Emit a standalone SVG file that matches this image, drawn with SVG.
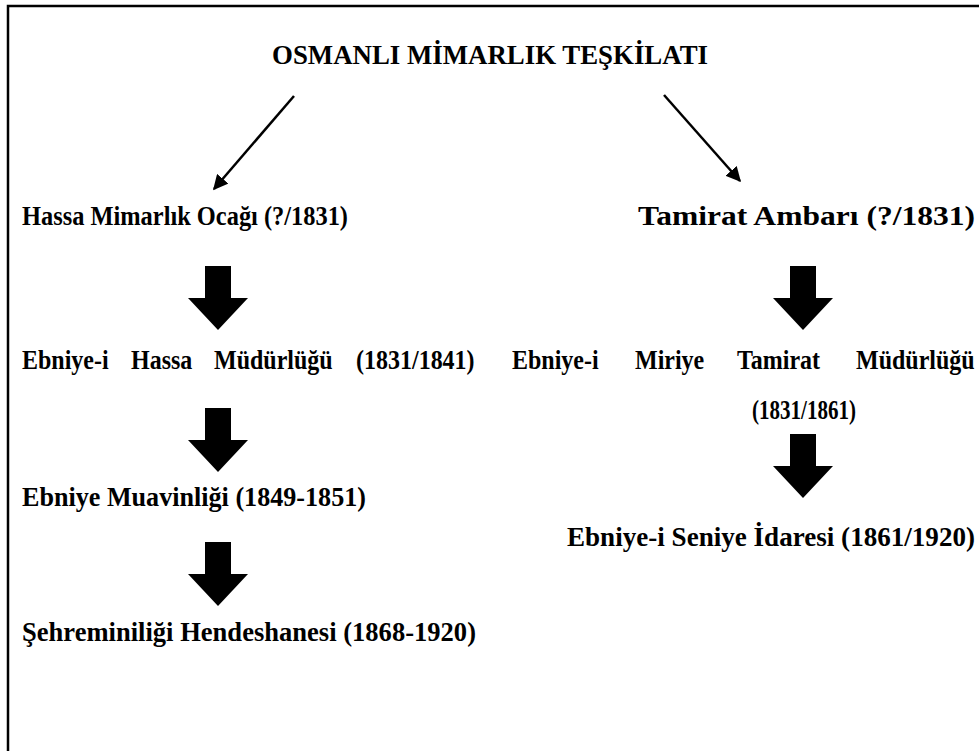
<svg xmlns="http://www.w3.org/2000/svg" width="979" height="751" viewBox="0 0 979 751">
<style>
.t{font-family:"Liberation Serif","Times New Roman",serif;font-weight:bold;font-size:24px;fill:#000}
.ln{stroke:#000;stroke-width:2.5;fill:none}
.blk{fill:#000}
</style>
<defs>
<marker id="ah" viewBox="0 0 10 10" refX="9" refY="5" markerWidth="6" markerHeight="6" markerUnits="strokeWidth" orient="auto">
<path d="M0,0 L10,5 L0,10 Z" fill="#000"/>
</marker>
<path id="barrow" d="M-13,0 H13 V32 H30 L0,64 L-30,32 H-13 Z"/>
</defs>
<rect width="979" height="751" fill="#fff"/>
<path class="ln" d="M8,751 V6 H979" stroke-width="2.5"/>

<g id="title"><text class="t" transform="translate(490,64) scale(1,1.1)" text-anchor="middle" textLength="436" lengthAdjust="spacingAndGlyphs">OSMANLI MİMARLIK TEŞKİLATI</text></g>

<g id="connectors">
<line class="ln" x1="294" y1="96" x2="214" y2="189" marker-end="url(#ah)"/>
<line class="ln" x1="664" y1="95" x2="740" y2="181" marker-end="url(#ah)"/>
<use href="#barrow" class="blk" x="218" y="266"/>
<use href="#barrow" class="blk" x="218" y="408"/>
<use href="#barrow" class="blk" x="218" y="542"/>
<use href="#barrow" class="blk" x="803" y="266"/>
<use href="#barrow" class="blk" x="803" y="434"/>
</g>

<g id="hassa"><text class="t" transform="translate(22,225) scale(1,1.1)" textLength="326" lengthAdjust="spacingAndGlyphs">Hassa Mimarlık Ocağı (?/1831)</text></g>
<g id="tamirat"><text class="t" transform="translate(638,225) scale(1,1.1)" textLength="337" lengthAdjust="spacingAndGlyphs">Tamirat Ambarı (?/1831)</text></g>
<g id="ebniye-hassa"><text class="t" transform="translate(0,369) scale(1,1.1)"><tspan x="22">Ebniye-i</tspan><tspan x="131">Hassa</tspan><tspan x="214">Müdürlüğü</tspan><tspan x="356">(1831/1841)</tspan></text></g>
<g id="ebniye-miriye"><text class="t" transform="translate(0,369) scale(1,1.1)"><tspan x="512">Ebniye-i</tspan><tspan x="635">Miriye</tspan><tspan x="737">Tamirat</tspan><tspan x="856">Müdürlüğü</tspan></text>
<text class="t" transform="translate(752,419) scale(1,1.1)" textLength="104" lengthAdjust="spacingAndGlyphs">(1831/1861)</text></g>
<g id="muavinlik"><text class="t" transform="translate(22,506) scale(1,1.1)" textLength="344" lengthAdjust="spacingAndGlyphs">Ebniye Muavinliği (1849-1851)</text></g>
<g id="seniye"><text class="t" transform="translate(567,546) scale(1,1.1)" textLength="408" lengthAdjust="spacingAndGlyphs">Ebniye-i Seniye İdaresi (1861/1920)</text></g>
<g id="sehremini"><text class="t" transform="translate(22,641) scale(1,1.1)" textLength="454" lengthAdjust="spacingAndGlyphs">Şehreminiliği Hendeshanesi (1868-1920)</text></g>
</svg>
